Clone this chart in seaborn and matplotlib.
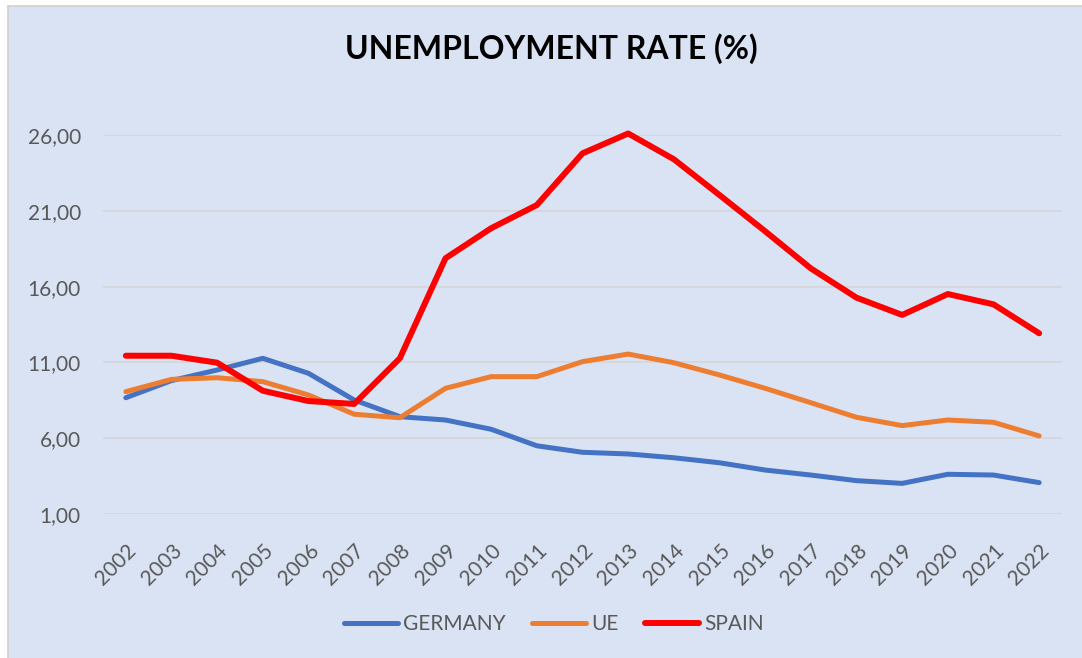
import matplotlib
matplotlib.use("Agg")
import matplotlib.pyplot as plt
from matplotlib.patches import Rectangle
from matplotlib.ticker import FuncFormatter
import pandas as pd
import seaborn as sns

# Unemployment rate (%) by year
years = list(range(2002, 2023))
germany = [8.67, 9.80, 10.50, 11.27, 10.28, 8.52, 7.42, 7.20, 6.59, 5.50, 5.07,
           4.96, 4.71, 4.38, 3.90, 3.57, 3.20, 3.02, 3.62, 3.57, 3.07]
ue = [9.07, 9.88, 9.99, 9.73, 8.85, 7.58, 7.35, 9.29, 10.06, 10.06, 11.05,
      11.55, 10.98, 10.17, 9.29, 8.34, 7.38, 6.83, 7.20, 7.05, 6.15]
spain = [11.44, 11.44, 10.98, 9.13, 8.45, 8.26, 11.27, 17.87, 19.85, 21.38, 24.79,
         26.10, 24.40, 22.04, 19.65, 17.20, 15.27, 14.13, 15.51, 14.83, 12.92]
series_names = ["GERMANY", "UE", "SPAIN"]
y_ticks = [1, 6, 11, 16, 21, 26]

df = pd.DataFrame({"year": years, "GERMANY": germany, "UE": ue, "SPAIN": spain})
long_df = df.melt(id_vars="year", var_name="country", value_name="rate")

sns.set_theme(style="white")
plt.rcParams["font.family"] = ["Lato", "DejaVu Sans"]

colors = {"GERMANY": "#4472C4", "UE": "#ED7D31", "SPAIN": "#FF0000"}
widths = {"GERMANY": 3.6, "UE": 3.6, "SPAIN": 4.3}
bg = "#DAE3F3"
text_col = "#595959"

W, H = 1082, 658
fig = plt.figure(figsize=(W / 100, H / 100), dpi=100, facecolor="white")

# chart area panel behind everything
panel = Rectangle((8 / W, -0.01), 1.02 - 8 / W, 1.01 - 6 / H,
                  transform=fig.transFigure, facecolor=bg,
                  edgecolor="#D0D0D0", linewidth=1.2, zorder=-10)
fig.patches.append(panel)

ax = fig.add_axes([103 / W, 1 - 514 / H, (1062 - 103) / W, (514 - 135) / H])
ax.set_zorder(2)
ax.patch.set_alpha(0)

for name in series_names:
    sub = long_df[long_df["country"] == name]
    sns.lineplot(data=sub, x="year", y="rate", ax=ax, color=colors[name],
                 linewidth=widths[name], label=name, legend=False,
                 solid_capstyle="round", solid_joinstyle="round", clip_on=False,
                 zorder=3)

ax.set_xlim(years[0] - 0.5, years[-1] + 0.5)
ax.set_ylim(y_ticks[0], y_ticks[-1])
ax.set_yticks(y_ticks)
ax.yaxis.set_major_formatter(FuncFormatter(lambda v, p: f"{v:.2f}".replace(".", ",")))
ax.set_xticks(years)
ax.set_xticklabels([str(y) for y in years], rotation=45, ha="right",
                   rotation_mode="anchor")
ax.tick_params(axis="both", length=0, colors=text_col)
ax.tick_params(axis="y", pad=16, labelsize=15)
ax.tick_params(axis="x", pad=19, labelsize=15)
ax.grid(axis="y", color="#D5D5D5", linewidth=1.2, zorder=0)
ax.grid(axis="x", visible=False)
for s in ax.spines.values():
    s.set_visible(False)
ax.set_xlabel("")
ax.set_ylabel("")

fig.text(551 / W, 1 - 49 / H, "UNEMPLOYMENT RATE (%)", ha="center", va="center",
         fontsize=23, fontweight="bold", color="black")

handles, labels = ax.get_legend_handles_labels()
leg = fig.legend(handles, labels, loc="center", bbox_to_anchor=(554 / W, 1 - 624 / H),
                 ncol=3, frameon=False, fontsize=15, handlelength=2.6,
                 handletextpad=0.25, columnspacing=1.25, labelcolor=text_col)

fig.savefig("out.png", dpi=100, facecolor="white")
